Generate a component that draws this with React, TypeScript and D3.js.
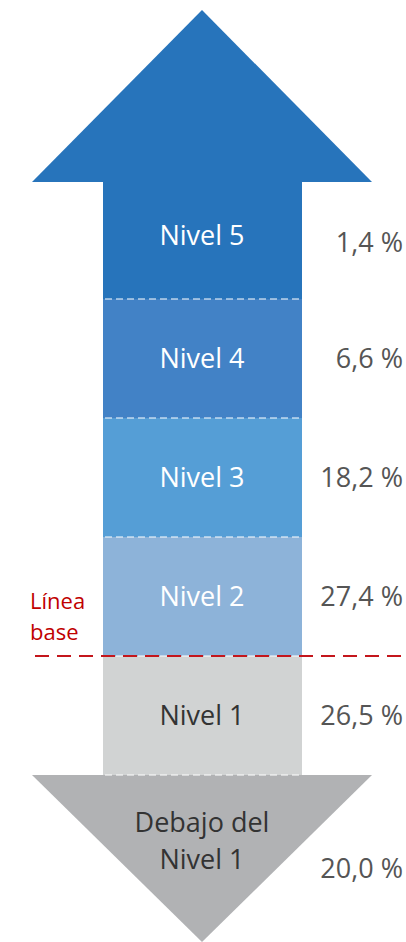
import React, { useEffect, useRef } from "react";
import * as d3 from "d3";

// levels, top to bottom
const levels = ["Nivel 5", "Nivel 4", "Nivel 3", "Nivel 2", "Nivel 1"];
const values = [1.4, 6.6, 18.2, 27.4, 26.5];
const levelColors = ["#2774bb", "#4282c6", "#559ed6", "#8db3d9", "#d1d3d3"];
const levelTextColors = ["#ffffff", "#ffffff", "#ffffff", "#ffffff", "#333333"];
const belowLabel = ["Debajo del", "Nivel 1"];
const belowValue = 20.0;

const fmt = (v: number) => v.toFixed(1).replace(".", ",") + " %";

export default function App() {
  const ref = useRef<SVGSVGElement>(null);

  useEffect(() => {
    document.body.style.margin = "0";
    const width = 406;
    const height = 942;
    const svg = d3.select(ref.current);
    svg.selectAll("*").remove();

    const cx = 202;
    const shaftLeft = 103;
    const shaftRight = 302;
    const headLeft = 32;
    const headRight = 372;

    const y = d3.scaleBand().domain(levels).range([180, 775]);
    const font = "'Open Sans', 'Noto Sans', sans-serif";
    const fs = 27;

    // top arrow head
    svg.append("path")
      .attr("d", d3.line()([[cx, 10], [headRight, 182], [headLeft, 182]]) + "Z")
      .attr("fill", levelColors[0]);

    // shaft blocks
    svg.selectAll("rect.lvl").data(levels).enter().append("rect")
      .attr("class", "lvl")
      .attr("x", shaftLeft)
      .attr("width", shaftRight - shaftLeft)
      .attr("y", d => y(d)!)
      .attr("height", y.bandwidth() + 0.5)
      .attr("fill", (d, i) => levelColors[i]);

    // bottom arrow
    const bottom = y.range()[1];
    svg.append("path")
      .attr("d", d3.line()([[headLeft, bottom], [headRight, bottom], [cx, height]]) + "Z")
      .attr("fill", "#b1b2b4");

    // white dashed separators
    const seps = levels.slice(1).map(d => y(d)!).concat([bottom]);
    svg.selectAll("line.sep").data(seps).enter().append("line")
      .attr("x1", shaftLeft + 2).attr("x2", shaftRight - 2)
      .attr("y1", d => d).attr("y2", d => d)
      .attr("stroke", "#ffffff")
      .attr("stroke-width", 1.2)
      .attr("stroke-dasharray", "7,4");

    // red base line
    const baseY = y("Nivel 1")!;
    svg.append("line")
      .attr("x1", 35).attr("x2", width)
      .attr("y1", baseY).attr("y2", baseY)
      .attr("stroke", "#c4161c")
      .attr("stroke-width", 2)
      .attr("stroke-dasharray", "14,8");

    svg.append("text")
      .attr("x", 30).attr("y", 609)
      .attr("fill", "#c00000")
      .attr("font-family", font)
      .attr("font-size", 22)
      .selectAll("tspan").data(["Línea", "base"]).enter().append("tspan")
      .attr("x", 30)
      .attr("dy", (d, i) => (i === 0 ? 0 : 31))
      .text(d => d);

    // level labels
    svg.selectAll("text.lvl").data(levels).enter().append("text")
      .attr("class", "lvl")
      .attr("x", cx)
      .attr("y", d => y(d)! + y.bandwidth() / 2 + (d === "Nivel 5" ? -4 : 0))
      .attr("dy", "0.35em")
      .attr("text-anchor", "middle")
      .attr("font-family", font)
      .attr("font-size", fs)
      .attr("fill", (d, i) => levelTextColors[i])
      .text(d => d);

    // values
    svg.selectAll("text.val").data(levels).enter().append("text")
      .attr("class", "val")
      .attr("x", 403)
      .attr("y", d => y(d)! + y.bandwidth() / 2 + (d === "Nivel 5" ? 3 : 0))
      .attr("dy", "0.35em")
      .attr("text-anchor", "end")
      .attr("font-family", font)
      .attr("font-size", fs)
      .attr("fill", "#555555")
      .text((d, i) => fmt(values[i]));

    svg.append("text")
      .attr("text-anchor", "middle")
      .attr("font-family", font)
      .attr("font-size", fs)
      .attr("fill", "#333333")
      .selectAll("tspan").data(belowLabel).enter().append("tspan")
      .attr("x", cx)
      .attr("y", (d, i) => 832 + i * 37)
      .text(d => d);

    svg.append("text")
      .attr("x", 403).attr("y", 878)
      .attr("text-anchor", "end")
      .attr("font-family", font)
      .attr("font-size", fs)
      .attr("fill", "#555555")
      .text(fmt(belowValue));
  }, []);

  return <svg ref={ref} width={406} height={942} style={{ display: "block" }} />;
}
